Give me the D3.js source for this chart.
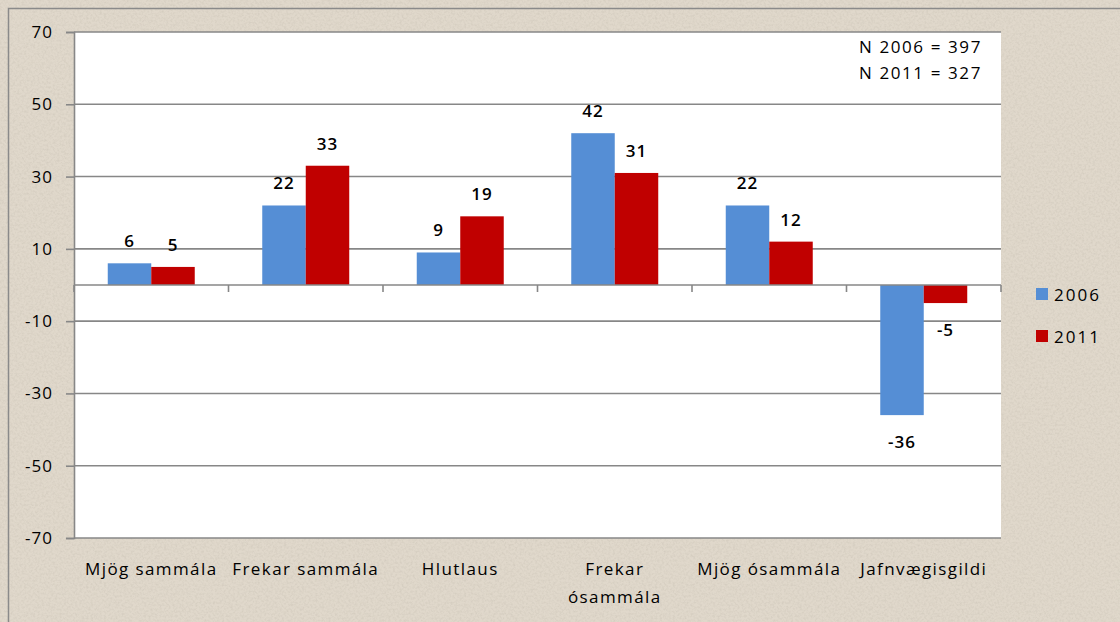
<!DOCTYPE html>
<html>
<head>
<meta charset="utf-8">
<script src="https://cdn.jsdelivr.net/npm/d3@7/dist/d3.min.js"></script>
<style>
  html, body { margin: 0; padding: 0; background: #e0d8cb; }
  svg { display: block; }
  text { font-family: "Open Sans", "Liberation Sans", sans-serif; fill: #000; }
</style>
</head>
<body>
<svg id="chart" width="1120" height="622"></svg>
<script>
// data
const categories = ["Mjög sammála", "Frekar sammála", "Hlutlaus", "Frekar\nósammála", "Mjög ósammála", "Jafnvægisgildi"];
const seriesNames = ["2006", "2011"];
const values2006 = [6, 22, 9, 42, 22, -36];
const values2011 = [5, 33, 19, 31, 12, -5];
const seriesColors = ["#558ed5", "#c00000"];
const yTicks = [70, 50, 30, 10, -10, -30, -50, -70];
const sampleNotes = ["N 2006 = 397", "N 2011 = 327"];

const width = 1120, height = 622;
const plot = { left: 74, right: 1001, top: 32, bottom: 538 };

const svg = d3.select("#chart");

// parchment-ish background
const defs = svg.append("defs");
const grain = defs.append("filter").attr("id", "grain").attr("x", 0).attr("y", 0).attr("width", 1).attr("height", 1);
grain.append("feTurbulence").attr("type", "fractalNoise").attr("baseFrequency", 0.45).attr("numOctaves", 3).attr("seed", 7);
grain.append("feColorMatrix").attr("type", "matrix")
  .attr("values", "0 0 0 0 0.62  0 0 0 0 0.57  0 0 0 0 0.49  1.6 0 0 0 -0.62");

svg.append("rect").attr("width", width).attr("height", height).attr("fill", "#e0d8cb");
svg.append("rect").attr("width", width).attr("height", height).attr("filter", "url(#grain)").attr("opacity", 0.8);

// outer border (runs off the right and bottom edge)
svg.append("rect")
  .attr("x", 8.5).attr("y", 8.5).attr("width", width + 20).attr("height", height + 20)
  .attr("fill", "none").attr("stroke", "#8a8a8a").attr("stroke-width", 1.5);

// plot area
svg.append("rect")
  .attr("x", plot.left).attr("y", plot.top)
  .attr("width", plot.right - plot.left).attr("height", plot.bottom - plot.top)
  .attr("fill", "#fff");

// scales
const x = d3.scaleBand().domain(categories).range([plot.left, plot.right]);
const xs = d3.scaleBand().domain(seriesNames).range([0, x.bandwidth()]).paddingOuter(0.776);
const y = d3.scaleLinear().domain([-70, 70]).range([plot.bottom, plot.top]);

// gridlines
svg.append("g")
  .selectAll("line")
  .data(yTicks)
  .join("line")
  .attr("x1", plot.left).attr("x2", plot.right)
  .attr("y1", d => y(d)).attr("y2", d => y(d))
  .attr("stroke", "#878787")
  .attr("stroke-width", 1.6);

// y axis
const yAxis = svg.append("g")
  .attr("transform", `translate(${plot.left},0)`)
  .call(d3.axisLeft(y).tickValues(yTicks).tickSize(8).tickPadding(13).tickFormat(d3.format("d")));
yAxis.select(".domain").attr("stroke", "#878787").attr("stroke-width", 1.6);
yAxis.selectAll(".tick line").attr("stroke", "#878787").attr("stroke-width", 1.6);
yAxis.selectAll(".tick text")
  .attr("font-family", "Open Sans")
  .attr("font-size", 17)
  .attr("letter-spacing", 1)
  .attr("fill", "#000")
  .text(d => d < 0 ? "-" + Math.abs(d) : d);

// bars
const rows = categories.map((c, i) => ({ cat: c, vals: [values2006[i], values2011[i]] }));
const groups = svg.append("g")
  .selectAll("g")
  .data(rows)
  .join("g")
  .attr("transform", d => `translate(${x(d.cat)},0)`);

groups.selectAll("rect")
  .data(d => d.vals.map((v, j) => ({ key: seriesNames[j], v: v, color: seriesColors[j] })))
  .join("rect")
  .attr("x", d => xs(d.key))
  .attr("width", xs.bandwidth())
  .attr("y", d => y(Math.max(0, d.v)))
  .attr("height", d => Math.abs(y(d.v) - y(0)))
  .attr("fill", d => d.color);

// value labels
groups.selectAll("text")
  .data(d => d.vals.map((v, j) => ({ key: seriesNames[j], v: v })))
  .join("text")
  .attr("x", d => xs(d.key) + xs.bandwidth() / 2)
  .attr("y", d => d.v >= 0 ? y(d.v) - 16 : y(d.v) + 33)
  .attr("text-anchor", "middle")
  .attr("font-size", 17)
  .attr("font-weight", 600)
  .attr("letter-spacing", 1)
  .text(d => d.v);

// category axis on zero line
svg.append("line")
  .attr("x1", plot.left).attr("x2", plot.right)
  .attr("y1", y(0)).attr("y2", y(0))
  .attr("stroke", "#878787").attr("stroke-width", 1.6);
const bounds = categories.map(c => x(c)).concat([plot.right]);
svg.append("g")
  .selectAll("line")
  .data(bounds)
  .join("line")
  .attr("x1", d => d).attr("x2", d => d)
  .attr("y1", y(0)).attr("y2", y(0) + 7)
  .attr("stroke", "#878787").attr("stroke-width", 1.6);

// category labels
const xAxis = svg.append("g")
  .attr("transform", `translate(0,${plot.bottom})`)
  .call(d3.axisBottom(x).tickSize(0).tickPadding(0));
xAxis.select(".domain").remove();
xAxis.selectAll(".tick text").each(function (d) {
  const t = d3.select(this);
  t.text(null).attr("y", 0).attr("dy", null)
    .attr("font-family", "Open Sans").attr("font-size", 17)
    .attr("letter-spacing", 1.4).attr("fill", "#000");
  d.split("\n").forEach((line, k) => {
    t.append("tspan").attr("x", 0).attr("y", 37 + k * 28).text(line);
  });
});

// sample size note
svg.append("g")
  .selectAll("text")
  .data(sampleNotes)
  .join("text")
  .attr("x", 982)
  .attr("y", (d, i) => 53 + i * 26)
  .attr("text-anchor", "end")
  .attr("font-size", 17)
  .attr("letter-spacing", 1.6)
  .text(d => d);

// legend
const legend = svg.append("g")
  .selectAll("g")
  .data(seriesNames)
  .join("g")
  .attr("transform", (d, i) => `translate(1036,${288 + i * 42})`);
legend.append("rect")
  .attr("width", 12).attr("height", 12)
  .attr("fill", (d, i) => seriesColors[i]);
legend.append("text")
  .attr("x", 18).attr("y", 13)
  .attr("font-size", 17)
  .attr("letter-spacing", 2)
  .text(d => d);
</script>
</body>
</html>
